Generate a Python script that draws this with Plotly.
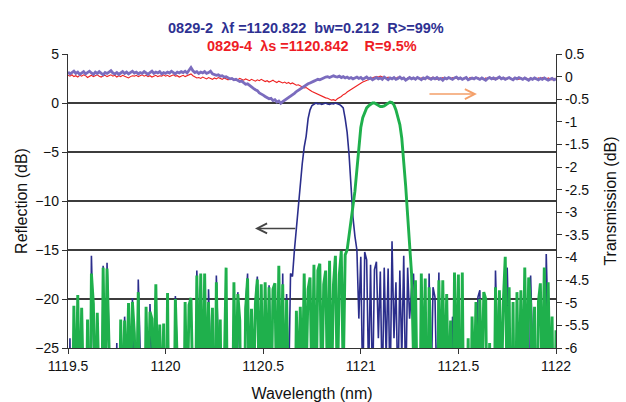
import plotly.graph_objects as go

# ---------------- data ----------------
WL_START = 1119.5
WL_STEP = 0.01

# Reflection (dB), sample 0829-2 (blue)
REFL_0829_2 = [
    -40, -24, -40, -40, -40, -40, -40, -40, -40, -40,
    -40, -40, -15.6, -40, -40, -40, -40, -40, -16.6, -40,
    -16.3, -40, -40, -40, -40, -24.5, -40, -40, -40, -21.8,
    -40, -40, -40, -19.9, -40, -40, -18.0, -40, -40, -40,
    -40, -40, -20.5, -40, -40, -40, -40, -40, -40, -40,
    -40, -40, -40, -40, -40, -19.7, -40, -40, -40, -40,
    -40, -40, -40, -40, -40, -40, -17.1, -40, -40, -40,
    -40, -40, -19.0, -40, -40, -40, -17.6, -40, -40, -40,
    -40, -40, -40, -40, -40, -40, -40, -19.3, -40, -40,
    -40, -20.8, -17.4, -40, -40, -40, -20.3, -17.7, -40, -40,
    -40, -40, -40, -18.6, -40, -40, -40, -40, -40, -40,
    -17.4, -40, -19.5, -30, -17.4, -17.7, -15.0, -12.8, -10.0, -8.0,
    -6.2, -4.5, -3.4, -1.6, -0.7, -0.25, -0.1, 0.0, -0.1, -0.05,
    -0.15, -0.1, 0.0, -0.1, -0.15, -0.05, -0.1, 0.0, -0.05, -0.15,
    -0.3, -0.5, -1.6, -3.0, -5.3, -9.0, -11.7, -13.6, -15.0, -22,
    -15.7, -30, -15.2, -16.0, -28, -16.5, -30, -17.0, -16.2, -24,
    -17.2, -30, -16.8, -26, -16.9, -30, -14.1, -24, -18.3, -30,
    -17.1, -26, -15.6, -30, -16.8, -22, -19.0, -17.4, -30, -40,
    -40, -40, -40, -40, -40, -17.4, -30, -18.8, -19.8, -30,
    -17.3, -40, -40, -40, -40, -40, -40, -21.8, -40, -40,
    -40, -40, -40, -40, -40, -40, -40, -40, -40, -40,
    -19.8, -19.1, -40, -40, -40, -40, -40, -40, -40, -17.1,
    -40, -40, -40, -40, -40, -16.8, -40, -40, -40, -40,
    -40, -40, -40, -40, -40, -40, -40, -17.6, -40, -40,
    -40, -40, -40, -40, -40, -15.4, -40, -40, -40, -40,
    -40,
]

# Reflection (dB), sample 0829-4 (green)
REFL_0829_4 = [
    -40, -40, -40, -20.7, -32, -19.6, -32, -20.9, -40, -40,
    -22.1, -40, -17.4, -20.5, -32, -21.4, -30, -40, -16.8, -30,
    -16.9, -40, -40, -40, -40, -40, -40, -22.1, -32, -22.2,
    -30, -20.4, -30, -20.3, -23.5, -32, -19.3, -40, -40, -40,
    -20.8, -30, -21.3, -22.0, -30, -18.5, -30, -22.6, -32, -22.5,
    -40, -19.4, -40, -40, -40, -20.0, -40, -40, -40, -40,
    -20.3, -32, -20.6, -19.9, -40, -40, -17.6, -30, -17.4, -32,
    -17.4, -30, -20.3, -32, -20.9, -40, -18.3, -30, -22.1, -40,
    -28, -16.8, -40, -40, -40, -18.3, -30, -19.5, -22.2, -40,
    -40, -21.0, -17.9, -32, -21.0, -30, -20.5, -18.0, -30, -18.5,
    -32, -18.3, -30, -18.8, -32, -19.0, -18.4, -32, -16.6, -30,
    -18.5, -32, -20.1, -30, -40, -40, -40, -21.2, -30, -20.8,
    -30, -17.4, -28, -19.0, -17.8, -30, -16.5, -32, -17.1, -16.4,
    -30, -18.5, -17.1, -30, -16.1, -30, -18.5, -15.6, -30, -17.5,
    -15.1, -28, -15.5, -15.0, -13.5, -12.2, -10.8, -9.0, -6.8, -4.3,
    -2.5, -1.5, -0.9, -0.5, -0.3, -0.1, 0.0, 0.0, -0.1, -0.25,
    -0.35, -0.35, -0.3, -0.15, 0.0, 0.1, 0.05, -0.2, -0.7, -1.4,
    -2.2, -3.6, -5.8, -8.5, -11.5, -14.1, -17.4, -26, -18.1, -32,
    -40, -17.4, -30, -17.9, -40, -18.8, -40, -40, -40, -40,
    -18.1, -30, -18.1, -30, -19.5, -32, -22.2, -40, -17.3, -30,
    -17.5, -40, -17.3, -40, -40, -24.0, -40, -21.8, -30, -20.3,
    -30, -20.0, -30, -19.3, -20.0, -40, -24.5, -40, -40, -18.8,
    -30, -19.1, -30, -20.3, -15.7, -30, -18.8, -40, -20.3, -40,
    -19.3, -32, -19.1, -30, -16.8, -30, -17.8, -20.5, -30, -20.8,
    -40, -20.3, -18.4, -30, -16.8, -30, -18.3, -30, -21.8, -40,
    -23.2,
]

# Transmission (dB), sample 0829-2 (purple)
TRANS_0829_2 = [
    0.10, 0.06, 0.09, 0.12, 0.07, 0.10, 0.05, 0.09, 0.11, 0.06,
    0.09, 0.12, 0.08, 0.05, 0.10, 0.07, 0.11, 0.08, 0.04, 0.09,
    0.07, 0.10, 0.13, 0.08, 0.06, 0.09, 0.05, 0.08, 0.11, 0.07,
    0.10, 0.06, 0.09, 0.12, 0.08, 0.10, 0.06, 0.09, 0.07, 0.11,
    0.08, 0.05, 0.09, 0.12, 0.07, 0.10, 0.08, 0.11, 0.06, 0.09,
    0.07, 0.10, 0.08, 0.12, 0.09, 0.06, 0.10, 0.08, 0.11, 0.09,
    0.12, 0.08, 0.14, 0.20, 0.13, 0.09, 0.11, 0.07, 0.10, 0.08,
    0.11, 0.07, 0.09, 0.12, 0.06, 0.05, 0.03, 0.04, 0.01, 0.02,
    -0.01, 0.00, -0.03, -0.05, -0.04, -0.07, -0.06, -0.09, -0.11, -0.10,
    -0.14, -0.17, -0.16, -0.20, -0.23, -0.26, -0.29, -0.31, -0.36, -0.38,
    -0.41, -0.44, -0.46, -0.49, -0.48, -0.53, -0.51, -0.56, -0.54, -0.59,
    -0.55, -0.52, -0.49, -0.46, -0.44, -0.40, -0.37, -0.33, -0.30, -0.27,
    -0.23, -0.21, -0.19, -0.16, -0.14, -0.11, -0.10, -0.08, -0.06, -0.07,
    -0.04, -0.03, -0.01, 0.00, -0.02, 0.01, 0.02, 0.00, -0.01, 0.01,
    -0.02, 0.00, -0.03, -0.01, -0.04, -0.02, -0.05, -0.03, -0.01, -0.04,
    -0.02, -0.06, -0.03, -0.01, -0.05, -0.03, -0.07, -0.04, -0.02, -0.05,
    -0.03, -0.06, -0.01, -0.04, -0.07, -0.03, -0.05, -0.02, -0.06, -0.04,
    -0.01, -0.05, -0.03, -0.08, -0.04, -0.02, -0.05, -0.03, -0.06, -0.02,
    -0.04, -0.07, -0.03, -0.05, -0.01, -0.04, -0.06, -0.03, -0.05, -0.02,
    -0.06, -0.04, -0.08, -0.03, -0.05, -0.02, -0.04, -0.06, -0.03, -0.01,
    -0.05, -0.03, -0.06, -0.04, -0.02, -0.07, -0.04, -0.03, -0.05, -0.02,
    -0.04, -0.06, -0.03, -0.05, -0.08, -0.04, -0.02, -0.05, -0.03, -0.06,
    -0.04, -0.01, -0.05, -0.03, -0.06, -0.04, -0.02, -0.05, -0.07, -0.03,
    -0.05, -0.02, -0.04, -0.06, -0.03, -0.05, -0.08, -0.04, -0.06, -0.03,
    -0.05, -0.07, -0.04, -0.06, -0.03, -0.05, -0.08, -0.06, -0.04, -0.07,
    -0.05,
]

# Transmission (dB), sample 0829-4 (red)
TRANS_0829_4 = [
    0.03, 0.01, 0.04, 0.00, 0.02, -0.01, 0.03, 0.01, 0.04, 0.02,
    -0.02, 0.01, 0.03, 0.00, 0.02, 0.04, 0.01, -0.01, 0.02, 0.03,
    0.00, 0.02, 0.04, 0.01, 0.03, -0.01, 0.02, 0.00, 0.03, 0.01,
    -0.01, -0.03, 0.00, 0.02, 0.01, 0.03, 0.00, 0.02, 0.04, 0.01,
    0.03, 0.00, 0.02, -0.01, 0.01, 0.03, 0.00, 0.02, 0.01, 0.04,
    0.01, 0.03, 0.00, 0.02, 0.04, 0.01, 0.02, -0.01, 0.02, 0.03,
    0.00, 0.02, 0.04, 0.06, 0.02, -0.01, -0.03, -0.02, -0.04, -0.01,
    -0.03, -0.05, -0.02, -0.04, -0.06, -0.03, -0.05, -0.02, -0.04, -0.06,
    -0.03, -0.05, -0.07, -0.04, -0.06, -0.08, -0.05, -0.07, -0.04, -0.06,
    -0.08, -0.05, -0.07, -0.09, -0.06, -0.08, -0.10, -0.07, -0.09, -0.06,
    -0.08, -0.11, -0.09, -0.12, -0.10, -0.08, -0.11, -0.13, -0.10, -0.12,
    -0.14, -0.12, -0.15, -0.13, -0.16, -0.14, -0.17, -0.19, -0.18, -0.21,
    -0.22, -0.25, -0.24, -0.28, -0.30, -0.33, -0.35, -0.37, -0.40, -0.41,
    -0.43, -0.45, -0.47, -0.48, -0.50, -0.52, -0.51, -0.53, -0.49, -0.47,
    -0.44, -0.40, -0.38, -0.34, -0.31, -0.28, -0.25, -0.22, -0.19, -0.17,
    -0.14, -0.12, -0.10, -0.08, -0.06, -0.05, -0.03, -0.01, 0.00, -0.01,
    0.01, -0.01, -0.03, -0.04, -0.01, -0.03, -0.05, -0.02, -0.04, -0.01,
    -0.03, -0.05, -0.02, -0.06, -0.03, -0.01, -0.04, -0.02, -0.05, -0.03,
    -0.05, -0.03, -0.06, -0.02, -0.04, -0.05, -0.03, -0.01, -0.04, -0.06,
    -0.03, -0.05, -0.02, -0.04, -0.06, -0.03, -0.05, -0.02, -0.04, -0.03,
    -0.06, -0.02, -0.05, -0.03, -0.04, -0.06, -0.02, -0.05, -0.03, -0.04,
    -0.02, -0.05, -0.04, -0.06, -0.03, -0.05, -0.01, -0.04, -0.06, -0.03,
    -0.05, -0.03, -0.06, -0.02, -0.04, -0.05, -0.03, -0.06, -0.04, -0.02,
    -0.04, -0.06, -0.03, -0.05, -0.02, -0.04, -0.06, -0.03, -0.05, -0.04,
    -0.06, -0.03, -0.05, -0.02, -0.04, -0.06, -0.03, -0.05, -0.07, -0.04,
    -0.06,
]

X_TICKS = [1119.5, 1120, 1120.5, 1121, 1121.5, 1122]
X_TICK_TEXT = ["1119.5", "1120", "1120.5", "1121", "1121.5", "1122"]
LEFT_TICKS = [5, 0, -5, -10, -15, -20, -25]
RIGHT_TICKS = [0.5, 0, -0.5, -1, -1.5, -2, -2.5, -3, -3.5, -4, -4.5, -5, -5.5, -6]
RIGHT_TICK_TEXT = ["0.5", "0", "-0.5", "-1", "-1.5", "-2", "-2.5", "-3", "-3.5",
                   "-4", "-4.5", "-5", "-5.5", "-6"]

TITLE_LINE_1 = "0829-2  \u03bbf =1120.822  bw=0.212  R>=99%"
TITLE_LINE_2 = "0829-4  \u03bbs =1120.842    R=9.5%"

wavelength = [round(WL_START + k * WL_STEP, 2) for k in range(len(REFL_0829_2))]

FONT = "Arial, 'Liberation Sans', sans-serif"
BLUE = "#2B2E8C"
GREEN = "#1FB04C"
PURPLE = "#7B6CBE"
RED = "#EE2222"

fig = go.Figure()
fig.add_trace(go.Scatter(x=wavelength, y=REFL_0829_2, mode="lines",
                         line=dict(color=BLUE, width=1.6), yaxis="y"))
fig.add_trace(go.Scatter(x=wavelength, y=REFL_0829_4, mode="lines",
                         line=dict(color=GREEN, width=2.9), yaxis="y"))
fig.add_trace(go.Scatter(x=wavelength, y=TRANS_0829_4, mode="lines",
                         line=dict(color=RED, width=1.1), yaxis="y2"))
fig.add_trace(go.Scatter(x=wavelength, y=TRANS_0829_2, mode="lines",
                         line=dict(color=PURPLE, width=2.8), yaxis="y2"))

tickfont = dict(family=FONT, size=14, color="#111")
titlefont = dict(family=FONT, size=16, color="#111")

fig.update_layout(
    width=626, height=402,
    margin=dict(l=68, r=70, t=54, b=54),
    paper_bgcolor="white", plot_bgcolor="white",
    showlegend=False,
    template="none",
    xaxis=dict(
        range=[1119.5, 1122], tickvals=X_TICKS, ticktext=X_TICK_TEXT,
        showgrid=False, zeroline=False, showline=True, linecolor="#333",
        linewidth=1.3, ticks="outside", ticklen=5, tickcolor="#333",
        tickfont=tickfont,
        title=dict(text="Wavelength (nm)", font=titlefont, standoff=15),
    ),
    yaxis=dict(
        range=[-25, 5], tickvals=LEFT_TICKS, showgrid=True, gridcolor="#3c3c3c",
        gridwidth=1.8, zeroline=False, showline=True, linecolor="#333",
        linewidth=1.3, ticks="outside", ticklen=5, tickcolor="#333",
        tickfont=tickfont,
        title=dict(text="Reflection (dB)", font=titlefont, standoff=3),
    ),
    yaxis2=dict(
        range=[-6, 0.5], tickvals=RIGHT_TICKS, ticktext=RIGHT_TICK_TEXT,
        overlaying="y", side="right", anchor="x", showgrid=False,
        zeroline=False, showline=True, linecolor="#333", linewidth=1.3,
        ticks="outside", ticklen=5, tickcolor="#333", tickfont=tickfont,
        title=dict(text="Transmission (dB)", font=titlefont, standoff=16),
    ),
    yaxis3=dict(
        range=[-6, 0.5], tickvals=RIGHT_TICKS, overlaying="y", side="right",
        anchor="x", showgrid=False, zeroline=False, showline=False,
        ticks="inside", ticklen=5, tickcolor="#333", showticklabels=False,
    ),
)

fig.add_annotation(text="<b>" + TITLE_LINE_1 + "</b>", xref="paper", yref="paper",
                   x=0.488, y=1.122, showarrow=False,
                   font=dict(family=FONT, size=14.5, color="#2E3192"))
fig.add_annotation(text="<b>" + TITLE_LINE_2 + "</b>", xref="paper", yref="paper",
                   x=0.50, y=1.062, showarrow=False,
                   font=dict(family=FONT, size=14.5, color="#EE1C25"))

# arrows pointing to the relevant axis
fig.add_annotation(x=1120.458, y=-12.8, ax=1120.672, ay=-12.8,
                   xref="x", yref="y", axref="x", ayref="y", text="",
                   showarrow=True, arrowhead=5, arrowsize=1.3, arrowwidth=1.5,
                   arrowcolor="#444")
fig.add_annotation(x=1121.595, y=0.91, ax=1121.344, ay=0.91,
                   xref="x", yref="y", axref="x", ayref="y", text="",
                   showarrow=True, arrowhead=5, arrowsize=1.3, arrowwidth=1.5,
                   arrowcolor="#F4A06A")

fig.write_html("out.html")
